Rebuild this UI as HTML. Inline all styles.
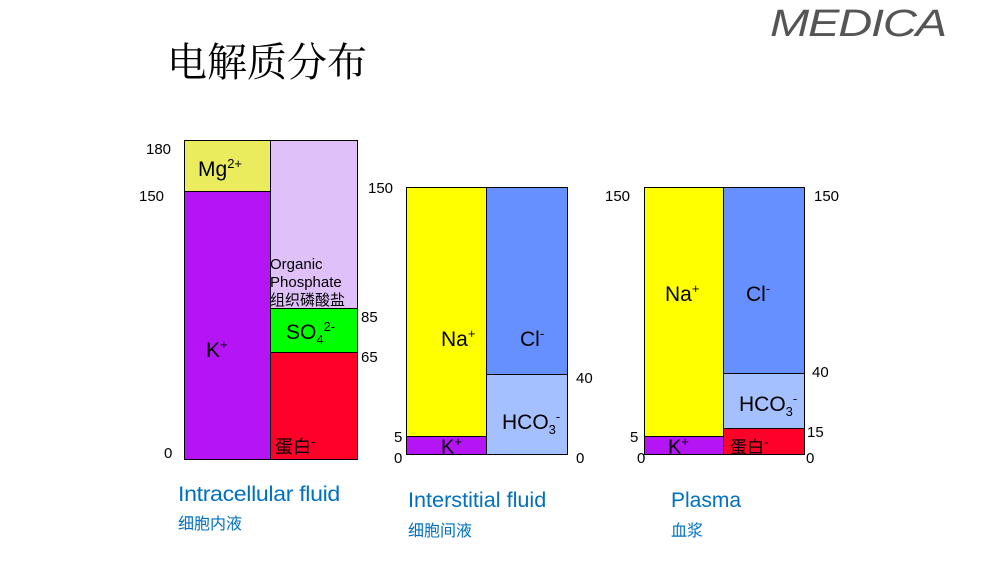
<!DOCTYPE html>
<html><head><meta charset="utf-8"><style>
body{margin:0;width:991px;height:566px;background:#fff;position:relative;overflow:hidden;font-family:"Liberation Sans","Noto Sans CJK SC",sans-serif}
.a{position:absolute}
.b{position:absolute;border:1.5px solid #000;box-sizing:border-box}
.t{position:absolute;font-size:21px;color:#000;white-space:nowrap}
.n{position:absolute;font-size:15px;color:#000}
sup,sub{font-size:13px}
.blue{color:#0070c0}
</style></head><body>
<div class="t" style="left:167px;top:31px;font-size:40px;font-family:'Noto Serif CJK SC',serif">电解质分布</div>
<div class="a" style="left:770px;top:3px;font-size:38px;color:#555;font-style:italic;letter-spacing:-1px;transform:scaleX(1.24);transform-origin:left">MEDICA</div>

<!-- chart1 -->
<div class="b" style="left:184px;top:140px;width:87px;height:53px;background:#ebeb5e"></div>
<div class="b" style="left:184px;top:191px;width:87px;height:269px;background:#b515f5"></div>
<div class="b" style="left:270px;top:140px;width:88px;height:170px;background:#e0c0f8"></div>
<div class="b" style="left:270px;top:308px;width:88px;height:46px;background:#00ff00"></div>
<div class="b" style="left:270px;top:352px;width:88px;height:108px;background:#ff0028"></div>
<div class="t" style="left:198px;top:156px">Mg<sup>2+</sup></div>
<div class="t" style="left:206px;top:337px">K<sup>+</sup></div>
<div class="a" style="left:270px;top:256px;font-size:15px;line-height:18px">Organic<br>Phosphate<br>组织磷酸盐</div>
<div class="t" style="left:286px;top:319px">SO<sub>4</sub><sup>2-</sup></div>
<div class="a" style="left:275px;top:433px;font-size:18px">蛋白<sup>-</sup></div>
<div class="n" style="left:146px;top:141px">180</div>
<div class="n" style="left:139px;top:188px">150</div>
<div class="n" style="left:164px;top:445px">0</div>
<div class="n" style="left:361px;top:309px">85</div>
<div class="n" style="left:361px;top:349px">65</div>
<div class="a blue" style="left:178px;top:483px;font-size:21px;letter-spacing:-0.3px;transform:scaleX(1.1);transform-origin:left">Intracellular fluid</div>
<div class="a blue" style="left:178px;top:510px;font-size:16px">细胞内液</div>

<!-- chart2 -->
<div class="b" style="left:406px;top:187px;width:82px;height:251px;background:#ffff00"></div>
<div class="b" style="left:406px;top:436px;width:82px;height:19px;background:#b515f5"></div>
<div class="b" style="left:486px;top:187px;width:82px;height:189px;background:#6690ff"></div>
<div class="b" style="left:486px;top:374px;width:82px;height:81px;background:#a5c0ff"></div>
<div class="t" style="left:441px;top:326px">Na<sup>+</sup></div>
<div class="t" style="left:520px;top:326px">Cl<sup>-</sup></div>
<div class="t" style="left:502px;top:409px">HCO<sub>3</sub><sup>-</sup></div>
<div class="t" style="left:441px;top:434px;font-size:20px">K<sup>+</sup></div>
<div class="n" style="left:368px;top:180px">150</div>
<div class="n" style="left:394px;top:429px">5</div>
<div class="n" style="left:394px;top:450px">0</div>
<div class="n" style="left:576px;top:370px">40</div>
<div class="n" style="left:576px;top:450px">0</div>
<div class="a blue" style="left:408px;top:489px;font-size:21px;transform:scaleX(1.03);transform-origin:left">Interstitial fluid</div>
<div class="a blue" style="left:408px;top:517px;font-size:16px">细胞间液</div>

<!-- chart3 -->
<div class="b" style="left:644px;top:187px;width:81px;height:251px;background:#ffff00"></div>
<div class="b" style="left:644px;top:436px;width:81px;height:19px;background:#b515f5"></div>
<div class="b" style="left:723px;top:187px;width:82px;height:188px;background:#6690ff"></div>
<div class="b" style="left:723px;top:373px;width:82px;height:57px;background:#a5c0ff"></div>
<div class="b" style="left:723px;top:428px;width:82px;height:27px;background:#ff0028"></div>
<div class="t" style="left:665px;top:281px">Na<sup>+</sup></div>
<div class="t" style="left:746px;top:281px">Cl<sup>-</sup></div>
<div class="t" style="left:739px;top:391px">HCO<sub>3</sub><sup>-</sup></div>
<div class="t" style="left:668px;top:434px;font-size:20px">K<sup>+</sup></div>
<div class="a" style="left:730px;top:433px;font-size:17px">蛋白<sup>-</sup></div>
<div class="n" style="left:605px;top:188px">150</div>
<div class="n" style="left:630px;top:429px">5</div>
<div class="n" style="left:637px;top:450px">0</div>
<div class="n" style="left:814px;top:188px">150</div>
<div class="n" style="left:812px;top:364px">40</div>
<div class="n" style="left:807px;top:424px">15</div>
<div class="n" style="left:806px;top:450px">0</div>
<div class="a blue" style="left:671px;top:489px;font-size:21px">Plasma</div>
<div class="a blue" style="left:671px;top:517px;font-size:16px">血浆</div>
</body></html>
